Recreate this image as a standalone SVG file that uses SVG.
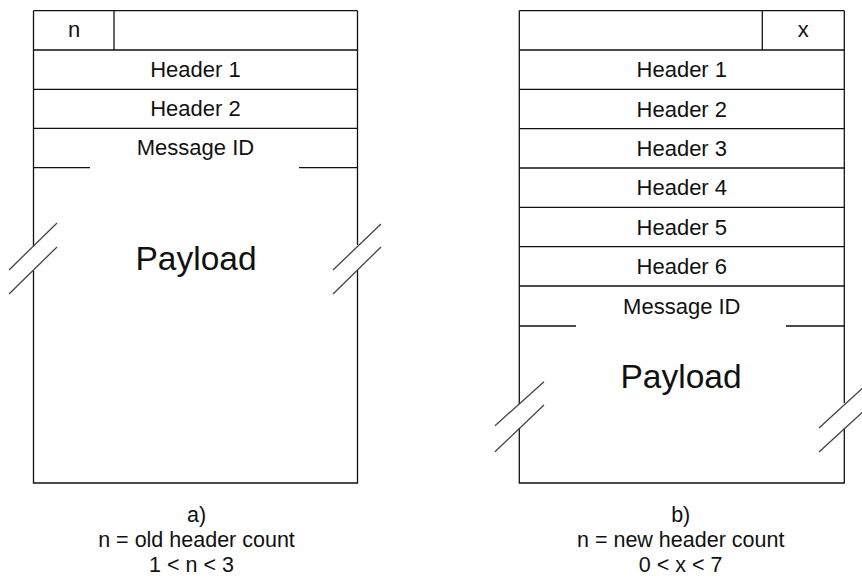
<svg xmlns="http://www.w3.org/2000/svg" width="862" height="580" viewBox="0 0 862 580">
<style>
  .ln { stroke:#111; stroke-width:1.3; fill:none; }
  .sl { stroke:#444; stroke-width:1.3; fill:none; }
  .t { font-family:"Liberation Sans", Arial, sans-serif; font-size:22px; fill:#111; text-anchor:middle; }
  .p { font-family:"Liberation Sans", Arial, sans-serif; font-size:33.5px; fill:#111; text-anchor:middle; }
  .c { font-family:"Liberation Sans", Arial, sans-serif; font-size:21.5px; fill:#111; text-anchor:middle; }
</style>
<rect width="862" height="580" fill="#fff"/>

<!-- Diagram a -->
<g id="packet-a">
  <g id="a-count-row">
    <path class="ln" d="M33.5,10.7 H357.5 M33.5,50 H357.5 M114,10.7 V50"/>
    <text class="t" x="74" y="36.5">n</text>
  </g>
  <g id="a-header1">
    <path class="ln" d="M33.5,89.3 H357.5"/>
    <text class="t" x="195.5" y="77">Header 1</text>
  </g>
  <g id="a-header2">
    <path class="ln" d="M33.5,128.3 H357.5"/>
    <text class="t" x="195.5" y="116">Header 2</text>
  </g>
  <g id="a-msgid">
    <path class="ln" d="M33.5,167.7 H90 M299,167.7 H357.5"/>
    <text class="t" x="195.5" y="155.3">Message ID</text>
  </g>
  <g id="a-payload">
    <path class="ln" d="M33.5,10.7 V246.5 M33.5,270.5 V483 H357.5 V270 M357.5,245 V10.7"/>
    <path class="sl" d="M9,270 L57,223 M9,294 L57,247 M333,270 L381,224 M333,294 L381,247"/>
    <text class="p" x="196" y="270">Payload</text>
  </g>
  <g id="a-caption">
    <text class="c" x="196.5" y="521.5">a)</text>
    <text class="c" x="196.5" y="546.5">n = old header count</text>
    <text class="c" x="191.5" y="571.5">1 &lt; n &lt; 3</text>
  </g>
</g>

<!-- Diagram b -->
<g id="packet-b">
  <g id="b-count-row">
    <path class="ln" d="M519.3,10.7 H844.3 M519.3,50 H844.3 M762.3,10.7 V50"/>
    <text class="t" x="803.3" y="36.5">x</text>
  </g>
  <g id="b-header1">
    <path class="ln" d="M519.3,89.3 H844.3"/>
    <text class="t" x="681.8" y="77">Header 1</text>
  </g>
  <g id="b-header2">
    <path class="ln" d="M519.3,128.7 H844.3"/>
    <text class="t" x="681.8" y="116.5">Header 2</text>
  </g>
  <g id="b-header3">
    <path class="ln" d="M519.3,168 H844.3"/>
    <text class="t" x="681.8" y="155.8">Header 3</text>
  </g>
  <g id="b-header4">
    <path class="ln" d="M519.3,207.3 H844.3"/>
    <text class="t" x="681.8" y="195.2">Header 4</text>
  </g>
  <g id="b-header5">
    <path class="ln" d="M519.3,246.7 H844.3"/>
    <text class="t" x="681.8" y="234.5">Header 5</text>
  </g>
  <g id="b-header6">
    <path class="ln" d="M519.3,286 H844.3"/>
    <text class="t" x="681.8" y="273.8">Header 6</text>
  </g>
  <g id="b-msgid">
    <path class="ln" d="M519.3,326 H576 M786,326 H844.3"/>
    <text class="t" x="681.8" y="313.5">Message ID</text>
  </g>
  <g id="b-payload">
    <path class="ln" d="M519.3,10.7 V404 M519.3,428 V483 H844.3 V428 M844.3,403 V10.7"/>
    <path class="sl" d="M495,425.7 L544,381.7 M495,451.7 L544,405 M819,428 L868,383 M819,452 L868,407"/>
    <text class="p" x="681" y="388.3">Payload</text>
  </g>
  <g id="b-caption">
    <text class="c" x="680.7" y="521.5">b)</text>
    <text class="c" x="680.7" y="546.5">n = new header count</text>
    <text class="c" x="680.7" y="571.5">0 &lt; x &lt; 7</text>
  </g>
</g>
</svg>
